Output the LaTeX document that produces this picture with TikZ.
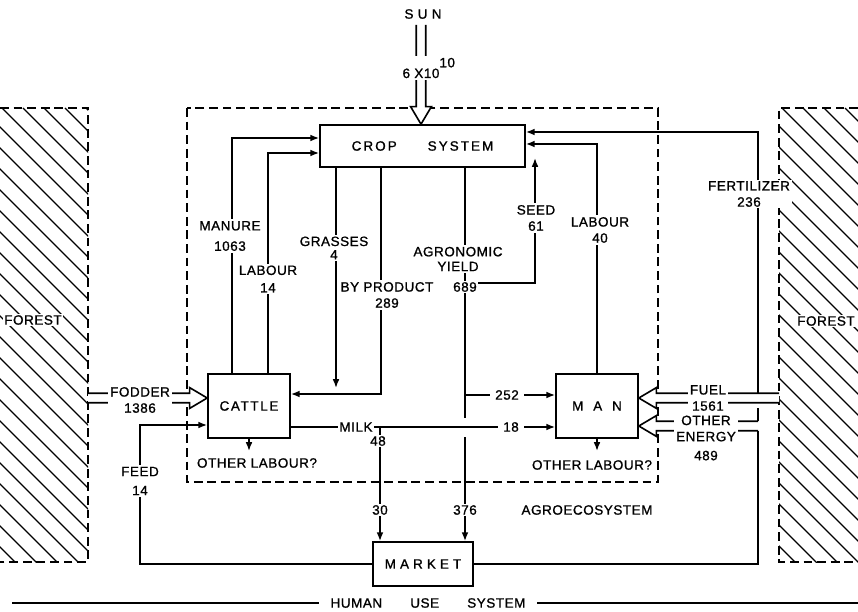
\documentclass[tikz,border=0pt]{standalone}
\usepackage{fontspec}
\setmainfont{Liberation Sans}[LetterSpace=4, FakeBold=1]
\usetikzlibrary{arrows.meta,calc}

\newcommand\wshaft{3.4pt}
\newcommand\whead{7.4pt}
\newcommand\lhead{12.5pt}

\begin{document}
\begin{tikzpicture}[
  x=0.25mm, y=-0.25mm, line width=1.15pt,
  font=\fontsize{9.6}{11.5}\selectfont,
  box/.style={rectangle, draw, align=center, inner sep=0pt},
  lbl/.style={fill=white, inner sep=1.2pt, align=center},
  arr/.style={-{Latex[length=2.2mm, width=1.7mm]}},
  hatch/.style={line width=0.8pt},
  dashline/.style={dash pattern=on 2.2mm off 1.2mm},
  wide/.style={draw, fill=white, to path={
    let \p1=(\tikztostart), \p2=(\tikztotarget),
        \n1={veclen(\x2-\x1,\y2-\y1)}, \n2={(\x2-\x1)/\n1}, \n3={(\y2-\y1)/\n1} in
    ({\x1-\n3*\wshaft},{\y1+\n2*\wshaft})
    -- ({\x2-\n2*\lhead-\n3*\wshaft},{\y2-\n3*\lhead+\n2*\wshaft})
    -- ({\x2-\n2*\lhead-\n3*\whead},{\y2-\n3*\lhead+\n2*\whead})
    -- (\p2)
    -- ({\x2-\n2*\lhead+\n3*\whead},{\y2-\n3*\lhead-\n2*\whead})
    -- ({\x2-\n2*\lhead+\n3*\wshaft},{\y2-\n3*\lhead-\n2*\wshaft})
    -- ({\x1+\n3*\wshaft},{\y1-\n2*\wshaft})}}
]
\useasboundingbox (0,0) rectangle (858,612);

% forests
\begin{scope}
  \clip (0,108) rectangle (88,562);
  \foreach \k in {-460,-439,...,90}
    \draw[hatch] (\k,108) -- ++(480,480);
\end{scope}
\begin{scope}
  \clip (779,108) rectangle (858,562);
  \foreach \k in {320,341,...,860}
    \draw[hatch] (\k,108) -- ++(480,480);
\end{scope}
\draw[dashline] (0,108) -- (88,108) -- (88,562) -- (0,562);
\draw[dashline] (858,108) -- (779,108) -- (779,562) -- (858,562);
\node[lbl] (forestL) at (33,320) {FOREST};
\node[lbl] (forestR) at (826,321) {FOREST};

% agroecosystem
\draw[dashline] (187,108) rectangle (658,482);

\node[box, minimum width=51.25mm, minimum height=10.5mm] (crop) at (422.5,146)
  {\addfontfeature{LetterSpace=15}CROP\hspace{22pt}SYSTEM};
\node[box, minimum width=20.5mm, minimum height=16mm] (cattle) at (249,406)
  {\addfontfeature{LetterSpace=12}CATTLE};
\node[box, minimum width=20.5mm, minimum height=16mm] (man) at (597,406)
  {M\hspace{7pt}A\hspace{7pt}N};
\node[box, minimum width=25mm, minimum height=11mm] (market) at (423,564)
  {\addfontfeature{LetterSpace=30}MARKET};
\node (sun) at (423,14) {S U N};

\coordinate (grassend) at (336,388);
\coordinate (seedend) at (535,158);

% flows
\draw[wide] (421,25) to (crop.north -| 421,0);
\draw[wide] (88,398) to (cattle.west |- 0,398);
\draw[wide] (779,398) to (man.east |- 0,398);
\draw[wide] (758,426) to (man.east |- 0,426);

\draw[arr] (cattle.north -| 232,0) |- (crop.west |- 0,138);
\draw[arr] (cattle.north -| 268,0) |- (crop.west |- 0,153);
\draw[arr] (crop.south -| 336,0) -- (grassend);
\draw[arr] (crop.south -| 381,0) |- (cattle.east |- 0,394);
\draw[arr] (crop.south -| 465,0) -- (465,418) (465,437) -- (market.north -| 465,0);
\draw[arr] (465,283) -| (seedend);
\draw[arr] (man.north) |- (crop.east |- 0,144);
\draw[arr] (758,393) |- (crop.east |- 0,132);
\draw (758,421) -- (758,408);
\draw (market.east) -| (758,431);
\draw[arr] (market.west) -| (140,425) -- (cattle.west |- 0,425);
\draw[arr] (cattle.east |- 0,427) -- (man.west |- 0,427);
\draw[arr] (380,427) -- (market.north -| 380,0);
\draw[arr] (465,395) -- (man.west |- 0,395);

\node (olcattle) at (257,463) {OTHER LABOUR?};
\node (olman) at (592,465) {OTHER LABOUR?};
\draw[arr] (cattle.south) -- (cattle.south |- 0,451);
\draw[arr] (man.south) -- (man.south |- 0,451);

% labels
\node[lbl] (sunval) at (421,68) {6 X10\rlap{\raisebox{1.5ex}{10}}};
\node[lbl] (manure) at (230,236) {MANURE\\[3pt]1063};
\node[lbl] (lab14) at (268,279) {LABOUR\\[1pt]14};
\node[lbl] (grass) at (334,248) {GRASSES\\[-2pt]4};
\node[lbl] (yield) at (458,259) {AGRONOMIC\\[-1pt]YIELD};
\node[lbl] (v689) at (465,287) {689};
\node[lbl] (byprod) at (387,295) {BY PRODUCT\\289};
\node[lbl] (seed) at (536,218) {SEED\\61};
\node[lbl] (lab40) at (600,230) {LABOUR\\40};
\node[lbl] (fert) at (749,194) {FERTILIZER\\236};
\node[lbl] (fodder) at (140,400) {FODDER\\1386};
\node[lbl] (fuel) at (708,398) {FUEL\\1561};
\node[lbl] (other) at (706,438) {OTHER\\ENERGY\\[2pt]489};
\node[lbl] (feed) at (140,481) {FEED\\[2pt]14};
\node[lbl] (milk) at (356,427) {MILK};
\node[lbl] (milk48) at (378,441) {48};
\node[lbl, inner xsep=4pt] (v252) at (507,395) {252};
\node[lbl, inner xsep=4pt] (v18) at (511,427) {18};
\node[lbl] (v30) at (380,510) {30};
\node[lbl] (v376) at (465,510) {376};
\node (agro) at (587,510) {AGROECOSYSTEM};

\draw (12,603) -- (858,603);
\node[lbl, inner xsep=8pt] (hus) at (428,603) {HUMAN\hspace{20pt}USE\hspace{20pt}SYSTEM};
\end{tikzpicture}
\end{document}
